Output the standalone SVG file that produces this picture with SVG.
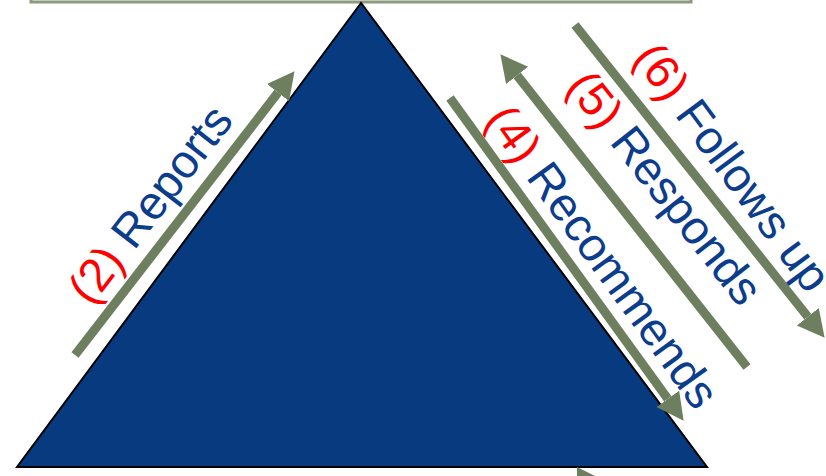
<svg xmlns="http://www.w3.org/2000/svg" width="826" height="476" viewBox="0 0 826 476">
  <defs>
    <marker id="head" markerUnits="userSpaceOnUse" markerWidth="30" markerHeight="30" refX="0" refY="14" orient="auto">
      <path d="M0,0 L27,14 L0,28 z" fill="#6d7f5f"/>
    </marker>
    <style>
      .flow { stroke: #6d7f5f; stroke-width: 9; fill: none; marker-end: url(#head); }
      .lbl { font-family: "Liberation Sans", Arial, sans-serif; font-size: 47px; fill: #0b3d8c; }
      .num { fill: #ff0000; }
    </style>
  </defs>

  <!-- top box, only its lower edge is in view -->
  <g id="top-box">
    <rect x="31" y="-50" width="660" height="52" fill="#f7f7f5" stroke="#8c9a80" stroke-width="3"/>
  </g>

  <!-- hierarchy triangle -->
  <g id="triangle">
    <polygon points="361,3 17,467 707,467" fill="#083a7f" stroke="#000" stroke-width="2" stroke-linejoin="miter"/>
  </g>

  <!-- connectors -->
  <g id="connectors">
    <line class="flow" x1="75" y1="355" x2="278" y2="92.6"/>
    <line class="flow" x1="450" y1="98" x2="667.8" y2="398.9"/>
    <line class="flow" x1="747" y1="367" x2="517.1" y2="75.4"/>
    <line class="flow" x1="575" y1="25" x2="807.8" y2="316.7"/>
    <polygon points="577,467 605,481 577,495" fill="#6d7f5f"/>
  </g>

  <g id="label-reports">
    <text class="lbl" transform="translate(91,307) rotate(-52.3)"><tspan class="num">(2)</tspan> Reports</text>
  </g>
  <g id="label-recommends">
    <text class="lbl" transform="translate(484,120) rotate(54.1)"><tspan class="num">(4)</tspan> Recommends</text>
  </g>
  <g id="label-responds">
    <text class="lbl" transform="translate(565,87) rotate(51.7)"><tspan class="num">(5)</tspan> Responds</text>
  </g>
  <g id="label-follows">
    <text class="lbl" transform="translate(632,58) rotate(53.5)"><tspan class="num">(6)</tspan> Follows up</text>
  </g>
</svg>
